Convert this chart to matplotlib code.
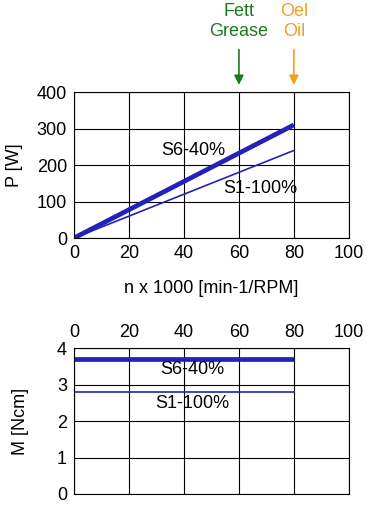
import matplotlib
matplotlib.use("Agg")
import matplotlib.pyplot as plt

plt.rcParams['font.family'] = ['Liberation Sans', 'DejaVu Sans']

# speed in 1000 rpm
speed = [0, 80]
power_s6 = [0, 310]
power_s1 = [0, 240]
torque_s6 = [3.7, 3.7]
torque_s1 = [2.8, 2.8]

x_ticks = [0, 20, 40, 60, 80, 100]
p_ticks = [0, 100, 200, 300, 400]
m_ticks = [0, 1, 2, 3, 4]

grease_speed = 60
oil_speed = 80

blue = '#2222bb'
green = '#1b7a1b'
orange = '#f0a020'
fs = 13

fig = plt.figure(figsize=(3.69, 5.05), dpi=100)
ax1 = fig.add_axes([0.2005, 0.5287, 0.745, 0.289])
ax2 = fig.add_axes([0.2005, 0.0218, 0.745, 0.289])

# power plot
ax1.plot(speed, power_s6, color=blue, lw=3.4, solid_capstyle='butt')
ax1.plot(speed, power_s1, color=blue, lw=1.2)
ax1.set_xlim(0, 100)
ax1.set_ylim(0, 400)
ax1.set_xticks(x_ticks)
ax1.set_yticks(p_ticks)
ax1.grid(True, color='black', lw=0.8)
ax1.tick_params(length=0, labelsize=fs, pad=5)
ax1.set_ylabel('P [W]', fontsize=fs, labelpad=10)
ax1.set_xlabel('n x 1000 [min-1/RPM]', fontsize=fs, labelpad=13)
ax1.text(43.3, 241, 'S6-40%', fontsize=fs, ha='center', va='center')
ax1.text(67.6, 137, 'S1-100%', fontsize=fs, ha='center', va='center')

# lubrication arrows above the plot
ax1.annotate('', xy=(grease_speed, 1.03), xycoords=('data', 'axes fraction'),
             xytext=(grease_speed, 1.31), textcoords=('data', 'axes fraction'),
             arrowprops=dict(arrowstyle='-|>', color=green, lw=1.2, mutation_scale=14))
ax1.annotate('', xy=(oil_speed, 1.03), xycoords=('data', 'axes fraction'),
             xytext=(oil_speed, 1.31), textcoords=('data', 'axes fraction'),
             arrowprops=dict(arrowstyle='-|>', color=orange, lw=1.2, mutation_scale=14))
ax1.text(grease_speed, 1.36, 'Fett\nGrease', transform=ax1.get_xaxis_transform(),
         color=green, fontsize=fs, ha='center', va='bottom', linespacing=1.2)
ax1.text(oil_speed, 1.36, 'Oel\nOil', transform=ax1.get_xaxis_transform(),
         color=orange, fontsize=fs, ha='center', va='bottom', linespacing=1.2)

# torque plot
ax2.plot(speed, torque_s6, color=blue, lw=3.4, solid_capstyle='butt')
ax2.plot(speed, torque_s1, color=blue, lw=1.2)
ax2.set_xlim(0, 100)
ax2.set_ylim(0, 4)
ax2.set_xticks(x_ticks)
ax2.set_yticks(m_ticks)
ax2.xaxis.tick_top()
ax2.grid(True, color='black', lw=0.8)
ax2.tick_params(length=0, labelsize=fs, pad=5)
ax2.set_ylabel('M [Ncm]', fontsize=fs, labelpad=20)
ax2.text(43, 3.40, 'S6-40%', fontsize=fs, ha='center', va='center')
ax2.text(43, 2.49, 'S1-100%', fontsize=fs, ha='center', va='center')

fig.savefig('out.png', dpi=100)
